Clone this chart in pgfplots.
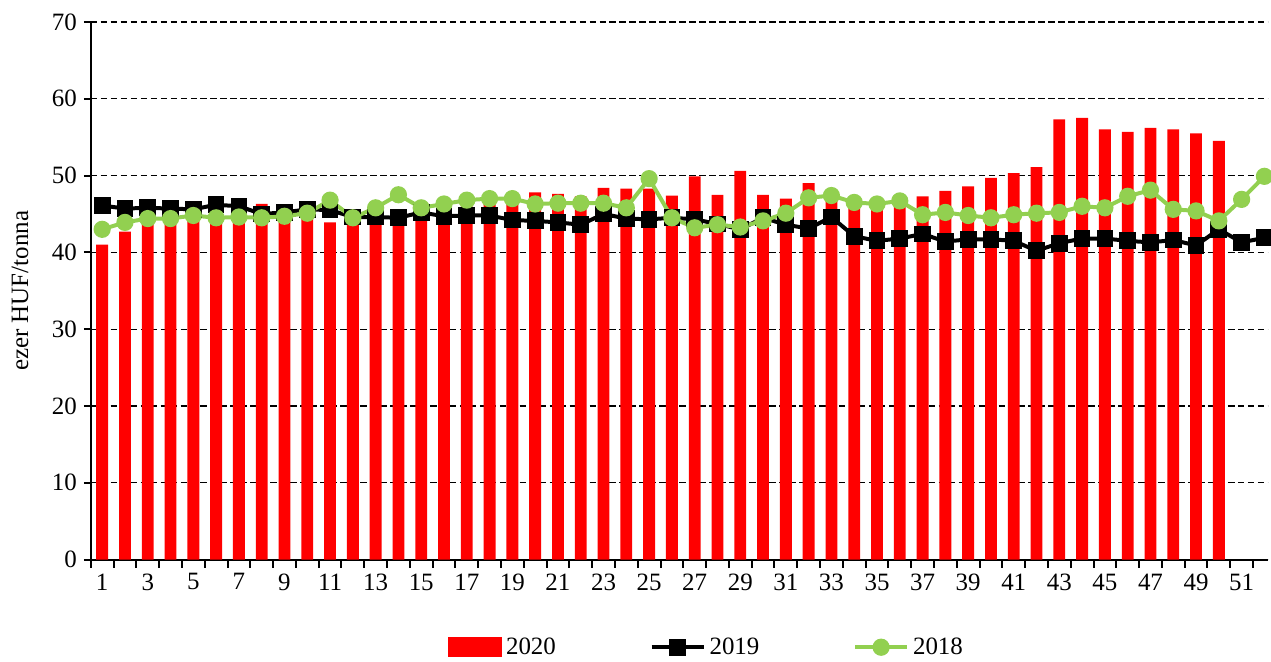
\documentclass[border=0pt]{standalone}
\usepackage{fontspec}
\setmainfont{Liberation Serif}
\usepackage{pgfplots}
\pgfplotsset{compat=1.18}
\definecolor{xlgreen}{RGB}{146,208,80}
\pgfplotsset{linelegend/.style={legend image code/.code={\draw[mark repeat=2,mark phase=2,##1] plot coordinates {(0pt,0pt) (13pt,0pt) (26pt,0pt)};}}}
\begin{document}
\begin{tikzpicture}
\begin{axis}[
  scale only axis, width=590pt, height=269.5pt,
  xmin=0.5, xmax=52.15, ymin=0, ymax=70,
  axis x line*=bottom, axis y line*=left,
  axis line style={line width=1pt},
  ytick={0,10,...,70},
  ymajorgrids, grid style={dash pattern=on 3.3pt off 1.7pt, black, line width=0.6pt},
  xtick={1,3,...,51},
  minor xtick={0.5,1.5,...,51.5},
  tick align=outside,
  major tick length=3.5pt, minor tick length=4pt,
  major x tick style={draw=none},
  minor x tick style={black, line width=1pt},
  major y tick style={black, line width=1pt},
  tick label style={font=\fontsize{12.5}{14}\selectfont},
  /pgf/number format/assume math mode=true,
  ylabel={ezer HUF/tonna},
  ylabel style={at={(axis description cs:0,0.5)}, anchor=center, yshift=35.5pt, inner sep=0pt, font=\fontsize{12.5}{14}\selectfont},
  legend style={at={(0.524,-0.163)}, anchor=center, draw=none, legend columns=3, inner sep=0pt,
    font=\fontsize{12.5}{14}\selectfont,
    /tikz/every even column/.append style={column sep=45pt},
    legend cell align=left},
]
\addplot[ybar, bar width=0.52, fill=red, draw=none,
  legend image code/.code={\fill[red] (0pt,-5pt) rectangle (27pt,5pt);}]
coordinates {
(1,41.0) (2,42.7) (3,44.5) (4,44.6) (5,44.8) (6,44.6) (7,44.8) (8,46.3) (9,45.0) (10,45.5)
(11,43.9) (12,44.1) (13,44.3) (14,44.5) (15,45.5) (16,45.5) (17,46.0) (18,46.5) (19,46.3) (20,47.8)
(21,47.6) (22,47.3) (23,48.4) (24,48.3) (25,48.3) (26,47.4) (27,49.9) (28,47.5) (29,50.6) (30,47.5)
(31,47.0) (32,49.0) (33,47.0) (34,46.5) (35,46.0) (36,46.5) (37,47.3) (38,48.0) (39,48.6) (40,49.7)
(41,50.3) (42,51.1) (43,57.3) (44,57.5) (45,56.0) (46,55.7) (47,56.2) (48,56.0) (49,55.5) (50,54.5)
};
\addlegendentry{2020}
\addplot[black, line width=2pt, mark=square*, mark size=3.2pt, linelegend]
coordinates {
(1,46.1) (2,45.7) (3,45.8) (4,45.7) (5,45.6) (6,46.2) (7,46.0) (8,45.0) (9,45.2) (10,45.6)
(11,45.5) (12,44.6) (13,44.6) (14,44.5) (15,45.2) (16,44.7) (17,44.8) (18,44.8) (19,44.2) (20,44.1)
(21,43.9) (22,43.6) (23,45.0) (24,44.4) (25,44.3) (26,44.5) (27,44.3) (28,43.7) (29,43.0) (30,44.5)
(31,43.6) (32,43.1) (33,44.6) (34,42.1) (35,41.5) (36,41.8) (37,42.4) (38,41.4) (39,41.7) (40,41.7)
(41,41.5) (42,40.2) (43,41.2) (44,41.8) (45,41.8) (46,41.5) (47,41.3) (48,41.6) (49,40.9) (50,43.0)
(51,41.3) (52,41.9)
};
\addlegendentry{2019}
\addplot[xlgreen, line width=2pt, mark=*, mark size=3.3pt, linelegend]
coordinates {
(1,43.0) (2,43.9) (3,44.4) (4,44.4) (5,44.8) (6,44.5) (7,44.6) (8,44.5) (9,44.7) (10,45.1)
(11,46.8) (12,44.5) (13,45.8) (14,47.5) (15,45.8) (16,46.3) (17,46.8) (18,47.0) (19,47.0) (20,46.3)
(21,46.4) (22,46.4) (23,46.4) (24,45.8) (25,49.6) (26,44.5) (27,43.2) (28,43.6) (29,43.3) (30,44.1)
(31,45.1) (32,47.1) (33,47.4) (34,46.5) (35,46.3) (36,46.7) (37,44.9) (38,45.2) (39,44.8) (40,44.5)
(41,44.9) (42,45.1) (43,45.2) (44,46.0) (45,45.8) (46,47.3) (47,48.1) (48,45.6) (49,45.4) (50,44.1)
(51,46.9) (52,49.9)
};
\addlegendentry{2018}
\end{axis}
\path ([xshift=-45.5pt,yshift=11pt]current axis.north west);
\path ([yshift=-49.5pt]current axis.south west);
\end{tikzpicture}
\end{document}
